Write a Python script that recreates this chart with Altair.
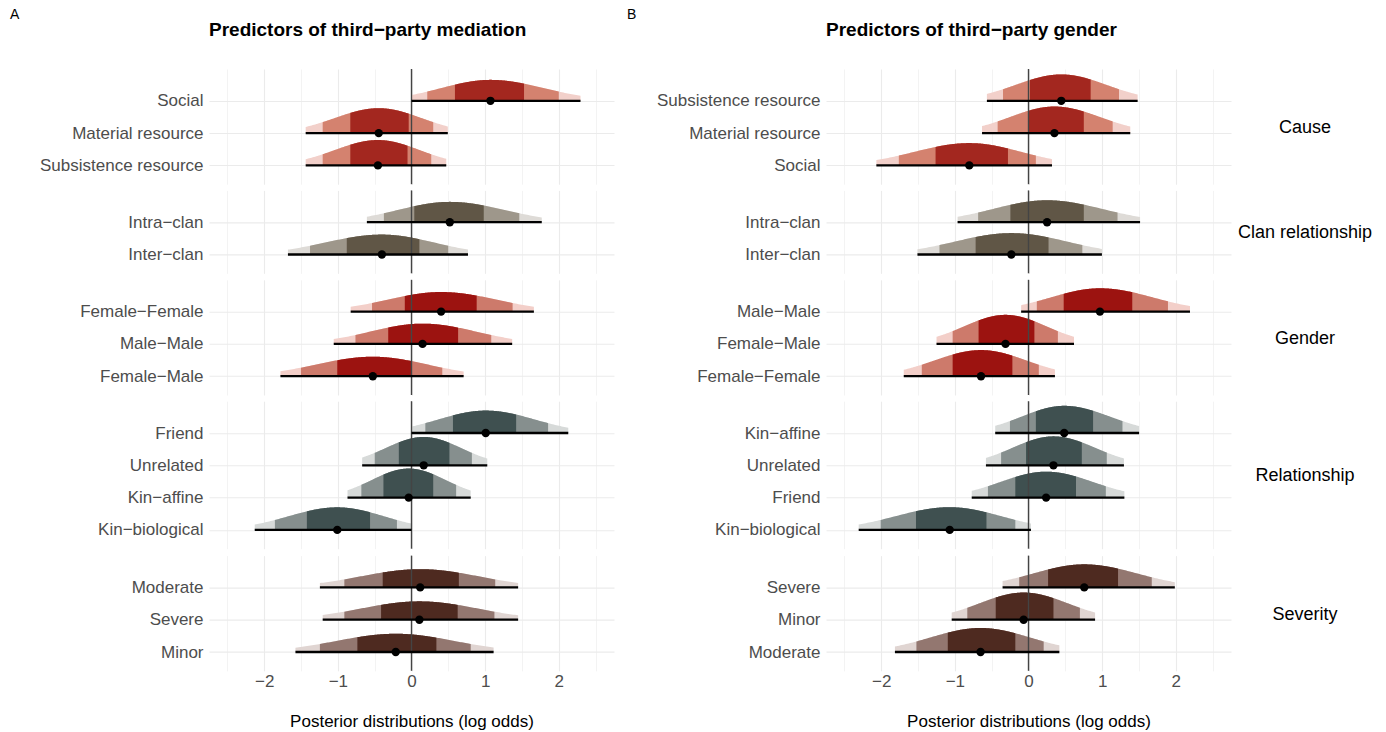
import altair as alt
import numpy as np
import pandas as pd

# ---------------- data ----------------
# each row: [lo, lo80, lo50, median, hi50, hi80, hi]  (log odds)
GROUPS = ["Cause", "Clan relationship", "Gender", "Relationship", "Severity"]

A_CAUSE_LABELS = ["Social", "Material resource", "Subsistence resource"]
A_CAUSE_Q = [[0.0, 0.214, 0.59, 1.072, 1.528, 2.0, 2.295],
             [-1.437, -1.206, -0.831, -0.445, -0.038, 0.295, 0.493],
             [-1.437, -1.206, -0.831, -0.456, -0.054, 0.268, 0.472]]
A_CLAN_LABELS = ["Intra\u2212clan", "Inter\u2212clan"]
A_CLAN_Q = [[-0.606, -0.375, 0.038, 0.52, 0.981, 1.464, 1.769],
            [-1.678, -1.378, -0.879, -0.402, 0.107, 0.499, 0.767]]
A_GENDER_LABELS = ["Female\u2212Female", "Male\u2212Male", "Female\u2212Male"]
A_GENDER_Q = [[-0.826, -0.536, -0.091, 0.402, 0.885, 1.373, 1.662],
              [-1.056, -0.761, -0.316, 0.150, 0.633, 1.083, 1.367],
              [-1.780, -1.501, -1.008, -0.525, 0.0, 0.418, 0.708]]
A_REL_LABELS = ["Friend", "Unrelated", "Kin\u2212affine", "Kin\u2212biological"]
A_REL_Q = [[0.0, 0.188, 0.563, 1.008, 1.421, 1.855, 2.129],
           [-0.670, -0.499, -0.172, 0.166, 0.515, 0.820, 1.029],
           [-0.869, -0.681, -0.381, -0.038, 0.295, 0.606, 0.804],
           [-2.129, -1.855, -1.421, -1.008, -0.563, -0.198, 0.0]]
A_SEV_LABELS = ["Moderate", "Severe", "Minor"]
A_SEV_Q = [[-1.244, -0.912, -0.391, 0.118, 0.643, 1.137, 1.448],
           [-1.206, -0.912, -0.413, 0.107, 0.627, 1.126, 1.448],
           [-1.576, -1.244, -0.735, -0.214, 0.338, 0.804, 1.115]]

B_CAUSE_LABELS = ["Subsistence resource", "Material resource", "Social"]
B_CAUSE_Q = [[-0.565, -0.346, 0.02, 0.445, 0.844, 1.229, 1.482],
             [-0.631, -0.419, 0.0, 0.352, 0.751, 1.143, 1.382],
             [-2.066, -1.761, -1.262, -0.804, -0.279, 0.1, 0.319]]
B_CLAN_LABELS = ["Intra\u2212clan", "Inter\u2212clan"]
B_CLAN_Q = [[-0.963, -0.684, -0.246, 0.252, 0.751, 1.209, 1.515],
            [-1.508, -1.209, -0.718, -0.233, 0.272, 0.731, 0.997]]
B_GENDER_LABELS = ["Male\u2212Male", "Female\u2212Male", "Female\u2212Female"]
B_GENDER_Q = [[-0.10, 0.113, 0.478, 0.970, 1.409, 1.894, 2.193],
              [-1.249, -1.03, -0.678, -0.312, 0.08, 0.399, 0.618],
              [-1.694, -1.449, -1.03, -0.645, -0.219, 0.140, 0.359]]
B_REL_LABELS = ["Kin\u2212affine", "Unrelated", "Friend", "Kin\u2212biological"]
B_REL_Q = [[-0.452, -0.252, 0.1, 0.485, 0.877, 1.276, 1.502],
           [-0.578, -0.372, -0.033, 0.339, 0.724, 1.063, 1.296],
           [-0.771, -0.551, -0.179, 0.239, 0.645, 1.05, 1.302],
           [-2.306, -2.007, -1.528, -1.07, -0.571, -0.179, 0.033]]
B_SEV_LABELS = ["Severe", "Minor", "Moderate"]
B_SEV_Q = [[-0.352, -0.126, 0.266, 0.757, 1.216, 1.674, 1.987],
           [-1.043, -0.831, -0.445, -0.066, 0.339, 0.698, 0.904],
           [-1.814, -1.522, -1.096, -0.651, -0.179, 0.206, 0.419]]

# light, medium, dark
GROUP_COLORS = {
    "Cause": ["#F2D0CA", "#D4826F", "#A3271F"],
    "Clan relationship": ["#DEDBD7", "#9E978B", "#605646"],
    "Gender": ["#F3CFC9", "#CD7A6B", "#9C1310"],
    "Relationship": ["#D7DAD9", "#868F8E", "#3F5050"],
    "Severity": ["#E0D5D2", "#937770", "#4E2A20"],
}

X_GRID = [-2.5, -2, -1.5, -1, -0.5, 0, 0.5, 1, 1.5, 2, 2.5]

# ---------------- layout ----------------
W = 405
U = 32.3          # px per category step
PAD_BOT = 0.582   # in category units
PAD_TOP = 0.985
Z80 = 1.2816
FONT = "Liberation Sans"

xscale = alt.Scale(domain=[-2.75, 2.75], nice=False, zero=False)
GRID_W = {"condition": {"test": "datum.value % 1 === 0", "value": 1.1}, "value": 0.6}


def split_sd(q):
    return (q[3] - q[1]) / Z80, (q[5] - q[3]) / Z80


def peak_of(q):
    sl, sr = split_sd(q)
    return 2.0 / (np.sqrt(2 * np.pi) * (sl + sr))


def facet(group, labels, qs, pmax, first, last, strip, letter, title):
    n = len(labels)
    h = (n - 1 + PAD_BOT + PAD_TOP) * U
    yscale = alt.Scale(domain=[-PAD_BOT, n - 1 + PAD_TOP], nice=False, zero=False)
    cols = GROUP_COLORS[group]
    slab_rows, pt_rows = [], []
    for i, (lab, q) in enumerate(zip(labels, qs)):
        idx = n - 1 - i
        lo, lo80, lo50, med, hi50, hi80, hi = q
        sl, sr = split_sd(q)
        k = 0.9 * peak_of(q) / pmax
        for band, (a, b) in enumerate([(lo, hi), (lo80, hi80), (lo50, hi50)]):
            xs = np.linspace(a, b, 120)
            s = np.where(xs < med, sl, sr)
            ys = idx + k * np.exp(-0.5 * ((xs - med) / s) ** 2)
            for xv, yv in zip(xs, ys):
                slab_rows.append({"key": f"{idx}-{band}", "band": band, "x": float(xv),
                                  "y": float(yv), "y0": float(idx), "col": cols[band]})
        pt_rows.append({"y": idx, "lo": lo, "hi": hi, "med": med})
    slab = pd.DataFrame(slab_rows)
    pts = pd.DataFrame(pt_rows)

    bottom_to_top = list(reversed(labels))
    labels_js = "[" + ",".join("'" + l + "'" for l in bottom_to_top) + "]"
    yaxis = alt.Axis(values=list(range(n)), labelExpr=f"{labels_js}[datum.value]",
                     grid=True, ticks=False, domain=False, title=None,
                     labelFontSize=17, labelColor="#4D4D4D", labelPadding=6,
                     labelFont=FONT, gridColor="#EBEBEB", gridWidth=1.1)
    if last:
        xaxis = alt.Axis(values=X_GRID,
                         labelExpr="datum.value % 1 === 0 ? format(datum.value, 'd') : ''",
                         grid=True, ticks=False, domain=False, labels=True,
                         labelFontSize=17, labelColor="#4D4D4D", labelFont=FONT,
                         labelPadding=3, labelFlush=False,
                         title="Posterior distributions (log odds)", titleFontSize=17,
                         titleFont=FONT, titleFontWeight="normal", titleColor="black",
                         titlePadding=24, gridColor="#EBEBEB", gridWidth=GRID_W)
    else:
        xaxis = alt.Axis(values=X_GRID, grid=True, ticks=False, domain=False, labels=False,
                         title=None, gridColor="#EBEBEB", gridWidth=GRID_W)

    layers = []
    for band in range(3):
        sub = slab[slab["band"] == band]
        layers.append(
            alt.Chart(sub).mark_area(interpolate="linear", opacity=1).encode(
                x=alt.X("x:Q", scale=xscale, axis=xaxis),
                y=alt.Y("y:Q", scale=yscale, axis=yaxis),
                y2="y0:Q",
                detail="key:N",
                color=alt.Color("col:N", scale=None),
            )
        )
    layers.append(
        alt.Chart(pd.DataFrame({"z": [0.0]})).mark_rule(color="#444444", strokeWidth=1.4).encode(
            x=alt.X("z:Q", scale=xscale, axis=xaxis))
    )
    layers.append(
        alt.Chart(pts).mark_rule(color="black", strokeWidth=2.3).encode(
            x=alt.X("lo:Q", scale=xscale, axis=xaxis), x2="hi:Q",
            y=alt.Y("y:Q", scale=yscale, axis=yaxis))
    )
    layers.append(
        alt.Chart(pts).mark_circle(color="black", size=70, opacity=1).encode(
            x=alt.X("med:Q", scale=xscale, axis=xaxis),
            y=alt.Y("y:Q", scale=yscale, axis=yaxis))
    )
    if strip:
        layers.append(
            alt.Chart(pd.DataFrame({"t": [group]})).mark_text(
                font=FONT, fontSize=18, color="black", align="center", baseline="middle").encode(
                text="t:N", x=alt.value(W + 74), y=alt.value(h / 2 + 1.5))
        )
    if first:
        layers.append(
            alt.Chart(pd.DataFrame({"t": [letter]})).mark_text(
                font=FONT, fontSize=14, color="black", align="left", baseline="middle").encode(
                text="t:N", x=alt.value(-199), y=alt.value(-54))
        )
        layers.append(
            alt.Chart(pd.DataFrame({"t": [title]})).mark_text(
                font=FONT, fontSize=19, fontWeight="bold", color="black", align="left",
                baseline="middle").encode(
                text="t:N", x=alt.value(0), y=alt.value(-39))
        )
    return alt.layer(*layers).properties(width=W, height=h)


def panel(spec, letter, title, strips):
    pmax = max(peak_of(q) for _, _, qs in spec for q in qs)
    charts = []
    for gi, (group, labels, qs) in enumerate(spec):
        charts.append(facet(group, labels, qs, pmax, gi == 0, gi == len(spec) - 1,
                            strips, letter, title))
    return alt.vconcat(*charts, spacing=4.4)


spec_a = [("Cause", A_CAUSE_LABELS, A_CAUSE_Q),
          ("Clan relationship", A_CLAN_LABELS, A_CLAN_Q),
          ("Gender", A_GENDER_LABELS, A_GENDER_Q),
          ("Relationship", A_REL_LABELS, A_REL_Q),
          ("Severity", A_SEV_LABELS, A_SEV_Q)]
spec_b = [("Cause", B_CAUSE_LABELS, B_CAUSE_Q),
          ("Clan relationship", B_CLAN_LABELS, B_CLAN_Q),
          ("Gender", B_GENDER_LABELS, B_GENDER_Q),
          ("Relationship", B_REL_LABELS, B_REL_Q),
          ("Severity", B_SEV_LABELS, B_SEV_Q)]

chart = alt.hconcat(
    panel(spec_a, "A", "Predictors of third\u2212party mediation", False),
    panel(spec_b, "B", "Predictors of third\u2212party gender", True),
    spacing=13,
).properties(
    padding={"left": 10, "top": 8, "right": 10, "bottom": 4},
    background="white",
).configure_view(stroke=None).configure_concat(spacing=6)

chart.save("out.html", embed_options={"renderer": "svg", "actions": False})
